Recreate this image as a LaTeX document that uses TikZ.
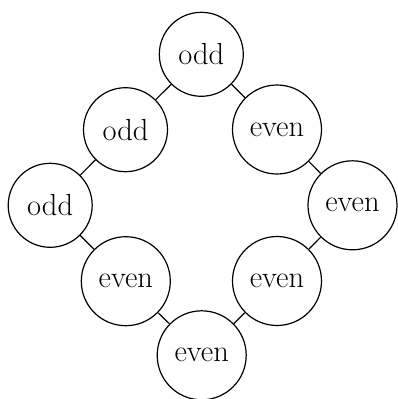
\documentclass[tikz,border=0pt]{standalone}
\begin{document}
\begin{tikzpicture}[x=1pt,y=-1pt,
  vtx/.style={draw,circle,inner sep=0pt,line width=1.2pt,font=\fontsize{30.5}{36}\selectfont},
  oddv/.style={vtx,minimum size=84pt},
  evenv/.style={vtx,minimum size=89pt},
  edge/.style={line width=1.2pt}]
\useasboundingbox (0,0) rectangle (397,399);
\node[oddv]  (A) at (201.3,54.3) {odd};
\node[oddv]  (B) at (125.5,129.7) {odd};
\node[evenv] (C) at (277,129.5) {even};
\node[oddv]  (D) at (50.2,205.3) {odd};
\node[evenv] (E) at (352.5,205.3) {even};
\node[evenv] (F) at (125.8,281.2) {even};
\node[evenv] (G) at (277,281) {even};
\node[evenv] (H) at (201.7,355.3) {even};
\draw[edge] (A) -- (B);
\draw[edge] (A) -- (C);
\draw[edge] (B) -- (D);
\draw[edge] (C) -- (E);
\draw[edge] (D) -- (F);
\draw[edge] (E) -- (G);
\draw[edge] (F) -- (H);
\draw[edge] (G) -- (H);
\end{tikzpicture}
\end{document}
